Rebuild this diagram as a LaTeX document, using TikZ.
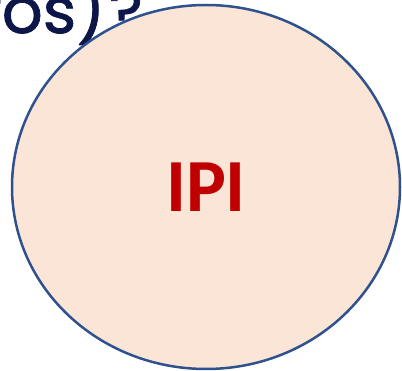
\documentclass[tikz,border=0pt]{standalone}
\usepackage{fontspec}
\setmainfont{Carlito}
\newfontfamily\titlefont[FakeBold=1.2]{Poppins}
\usetikzlibrary{shapes.geometric}
\definecolor{poolfill}{RGB}{251,229,214}
\definecolor{poolline}{RGB}{47,82,143}
\definecolor{ipired}{RGB}{192,0,0}
\definecolor{navy}{RGB}{12,22,72}
\begin{document}
\begin{tikzpicture}[x=1pt,y=-1pt]
                \useasboundingbox (0,0) rectangle (402,371);
                \clip (0,0) rectangle (402,371);
                \node[anchor=base east,inner sep=0pt,text=navy,font=\titlefont\fontsize{64}{68}\selectfont] (question) at (143,33) {ros)\kern4pt?};
                \node[ellipse,draw=poolline,fill=poolfill,line width=2.5pt,minimum width=388pt,minimum height=364pt,inner sep=0pt,text=ipired,font=\bfseries\fontsize{75}{80}\selectfont] (ipi) at (206,187) {IPI};
            \end{tikzpicture}
\end{document}
